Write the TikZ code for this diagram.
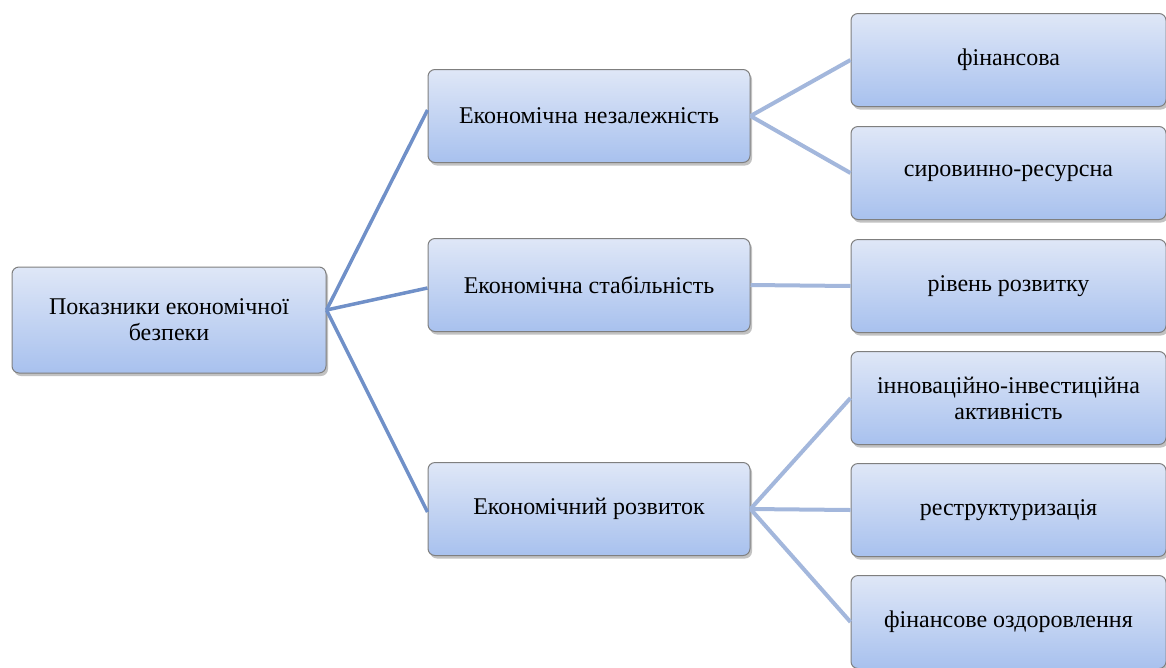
\documentclass[tikz,border=0pt]{standalone}
\usepackage{fontspec}
\setmainfont{Liberation Serif}
\usetikzlibrary{shadows}
\definecolor{boxtop}{HTML}{DFE7F7}
\definecolor{boxbot}{HTML}{A8C1EE}
\definecolor{boxedge}{HTML}{7F7F7F}
\definecolor{linkA}{HTML}{7090C8}
\definecolor{linkB}{HTML}{A3B7DC}
\tikzset{
  box/.style={draw=boxedge, line width=1pt, rounded corners=7pt, top color=boxtop, bottom color=boxbot,
    drop shadow={shadow xshift=2pt, shadow yshift=-3pt, fill=black!40, opacity=0.6},
    minimum height=93pt, align=center, font=\fontsize{24}{26}\selectfont, inner sep=2pt},
  rootbox/.style={box, minimum width=314pt, minimum height=106pt},
  midbox/.style={box, minimum width=322pt},
  leafbox/.style={box, minimum width=315pt},
  linkone/.style={draw=linkA, line width=3.5pt},
  linktwo/.style={draw=linkB, line width=4pt},
}
\begin{document}
\begin{tikzpicture}[x=1pt, y=-1pt]
\useasboundingbox (0,0) rectangle (1166,667);
\node[rootbox] (root) at (169,320) {Показники економічної\\безпеки};
\node[midbox] (m1) at (589,116) {Економічна незалежність};
\node[midbox] (m2) at (589,285) {Економічна стабільність};
\node[midbox] (m3) at (589,509) {Економічний розвиток};
\node[leafbox] (l1) at (1008.5,60) {фінансова};
\node[leafbox] (l2) at (1008.5,173) {сировинно-ресурсна};
\node[leafbox] (l3) at (1008.5,286) {рівень розвитку};
\node[leafbox] (l4) at (1008.5,398) {інноваційно-інвестиційна\\активність};
\node[leafbox] (l5) at (1008.5,510) {реструктуризація};
\node[leafbox] (l6) at (1008.5,622) {фінансове оздоровлення};
\coordinate (rootout) at ([yshift=10pt]root.east);
\draw[linkone] (rootout) -- ([yshift=6pt]m1.west);
\draw[linkone] (rootout) -- ([yshift=-3pt]m2.west);
\draw[linkone] (rootout) -- ([yshift=-3pt]m3.west);
\draw[linktwo] (m1.east) -- (l1.west);
\draw[linktwo] (m1.east) -- (l2.west);
\draw[linktwo] (m2.east) -- (l3.west);
\draw[linktwo] (m3.east) -- (l4.west);
\draw[linktwo] (m3.east) -- (l5.west);
\draw[linktwo] (m3.east) -- (l6.west);
\end{tikzpicture}
\end{document}
